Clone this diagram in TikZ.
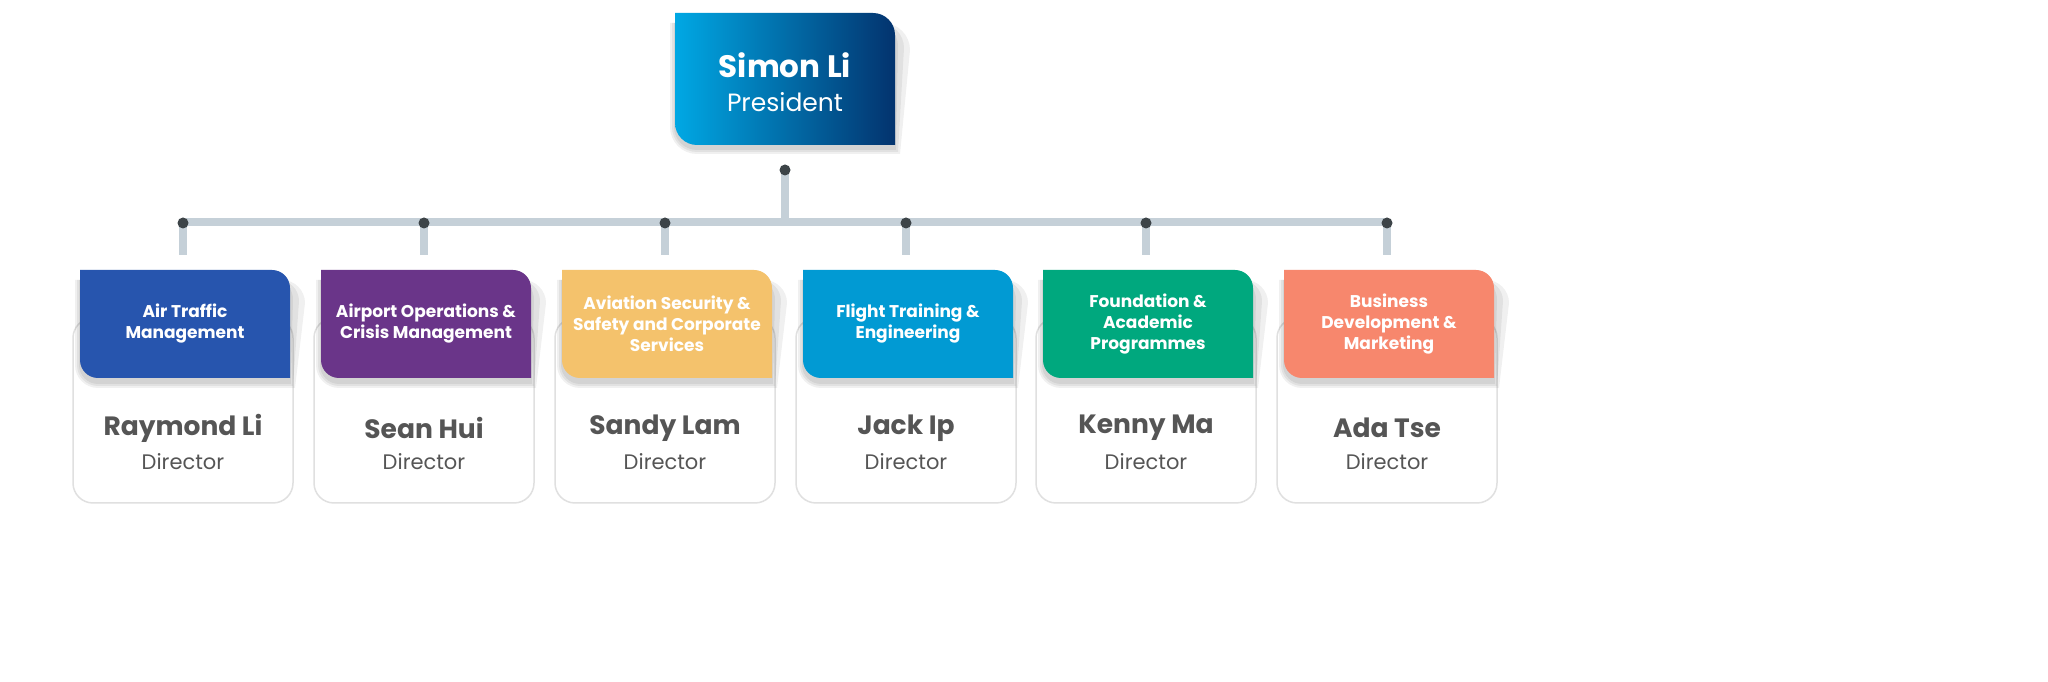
\documentclass[tikz,border=0pt]{standalone}
\usepackage{fontspec}
\setmainfont{Poppins}
\definecolor{linec}{HTML}{C5D0D8}
\definecolor{dotc}{HTML}{3D4448}
\definecolor{namec}{HTML}{555555}
\definecolor{c1}{HTML}{2755AE}
\definecolor{c2}{HTML}{6A3589}
\definecolor{c3}{HTML}{F4C26C}
\definecolor{c4}{HTML}{019AD3}
\definecolor{c5}{HTML}{00A87E}
\definecolor{c6}{HTML}{F7876D}
\definecolor{gl}{HTML}{00A8E4}
\definecolor{gr}{HTML}{03336E}
\tikzset{
  conn/.style={draw=linec,line width=8pt},
  dotn/.style={circle,fill=dotc,inner sep=0pt,minimum size=11pt},
  lbl/.style={align=center,text=white,font=\fontsize{17}{21}\selectfont\bfseries},
  nm/.style={text=namec,font=\fontsize{26.5}{30}\selectfont\bfseries},
  rl/.style={text=namec,font=\fontsize{21}{25}\selectfont},
  shd/.style={fill=black,opacity=0.06},
}
\newcommand{\tagpath}[5]{({#1},{#4}) -- ({#3-#5},{#4}) arc[start angle=90,end angle=0,radius=#5] -- ({#3},{#2}) -- ({#1+#5},{#2}) arc[start angle=270,end angle=180,radius=#5] -- cycle}
\begin{document}
\begin{tikzpicture}[x=1pt,y=1pt]
\useasboundingbox[fill=white] (0,0) rectangle (2048,682);
% top box shadow + box
\foreach \e in {1,3,5}{\fill[shd] \tagpath{675-\e}{537-4-\e}{895+\e}{669-10}{22+\e};}
\shade[left color=gl,right color=gr] \tagpath{675}{537}{895}{669}{22};
\node[text=white,font=\fontsize{31}{36}\selectfont\bfseries] (pn) at (785,617) {Simon Li};
\node[text=white,font=\fontsize{25}{30}\selectfont] (pr) at (785,580) {President};
\coordinate (top) at (785,512);
\coordinate (mid) at (785,460);
\draw[conn] (top) -- (mid);
\coordinate (hl) at (183,460);
\coordinate (hr) at (1387,460);
\draw[conn] (hl) -- (hr);
\node[dotn] (topd) at (top) {};
\foreach \i/\x/\c/\t/\n in {
 1/183/c1/{Air Traffic\\Management}/{Raymond Li},
 2/424/c2/{Airport Operations \&\\Crisis Management}/{Sean Hui},
 3/665/c3/{Aviation Security \&\\Safety and Corporate\\Services}/{Sandy Lam},
 4/906/c4/{Flight Training \&\\Engineering}/{Jack Ip},
 5/1146/c5/{Foundation \&\\Academic\\Programmes}/{Kenny Ma},
 6/1387/c6/{Business\\Development \&\\Marketing}/{Ada Tse}}{
  \coordinate (j\i) at (\x,459);
  \coordinate (s\i) at (\x,427);
  \draw[conn] (j\i) -- (s\i);
  \node[dotn] (d\i) at (j\i) {};
  \draw[draw=black!12,line width=1.5pt,fill=white,rounded corners=20] ({\x-110},179) rectangle ({\x+110},364);
  \foreach \e in {1,3,5}{\fill[shd] \tagpath{\x-103-\e}{304-5-\e}{\x+107+\e}{412-10}{18+\e};}
  \fill[\c] \tagpath{\x-103}{304}{\x+107}{412}{18};
  \node[lbl] (l\i) at ({\x+2},358) {\t};
  \node[nm] (n\i) at (\x,254) {\n};
  \node[rl] (r\i) at (\x,220) {Director};
}
\end{tikzpicture}
\end{document}
